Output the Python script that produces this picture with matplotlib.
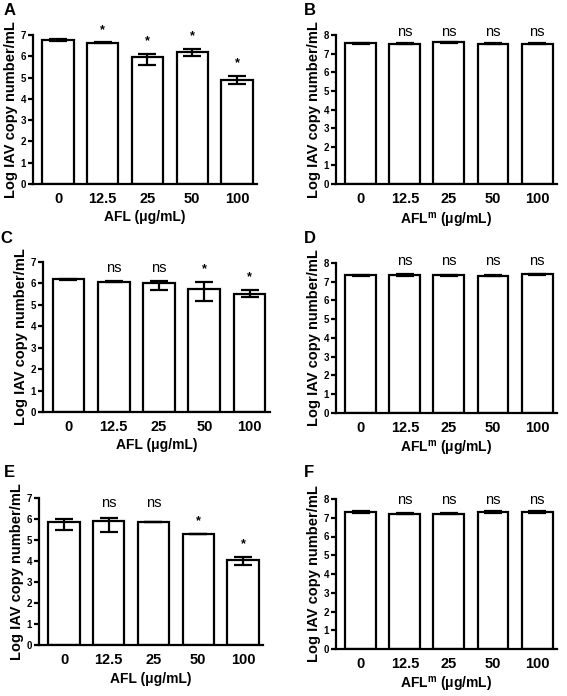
import matplotlib
matplotlib.use("Agg")
import matplotlib.pyplot as plt

plt.rcParams['font.family'] = ['Liberation Sans', 'DejaVu Sans']
plt.rcParams['mathtext.fontset'] = 'custom'
plt.rcParams['mathtext.bf'] = 'Liberation Sans:bold'
plt.rcParams['mathtext.rm'] = 'Liberation Sans'

# concentrations (x categories)
doses = ['0', '12.5', '25', '50', '100']

# panel A: AFL
a_mean = [6.78, 6.63, 5.95, 6.19, 4.88]
a_lo = [0.04, 0.02, 0.37, 0.16, 0.19]
a_hi = [0.04, 0.02, 0.15, 0.14, 0.19]
a_sig = ['', '*', '*', '*', '*']

# panel B: AFL^m
b_mean = [7.55, 7.52, 7.60, 7.52, 7.53]
b_err = [0.03, 0.03, 0.03, 0.03, 0.02]
b_sig = ['', 'ns', 'ns', 'ns', 'ns']

# panel C: AFL
c_mean = [6.19, 6.08, 6.00, 5.75, 5.51]
c_lo = [0.03, 0.03, 0.31, 0.56, 0.12]
c_hi = [0.03, 0.03, 0.10, 0.33, 0.19]
c_sig = ['', 'ns', 'ns', '*', '*']

# panel D: AFL^m
d_mean = [7.34, 7.36, 7.34, 7.32, 7.40]
d_err = [0.02, 0.03, 0.02, 0.03, 0.03]
d_sig = ['', 'ns', 'ns', 'ns', 'ns']

# panel E: AFL
e_mean = [5.87, 5.90, 5.86, 5.29, 4.03]
e_lo = [0.41, 0.52, 0.02, 0.01, 0.20]
e_hi = [0.13, 0.15, 0.02, 0.01, 0.15]
e_sig = ['', 'ns', 'ns', '*', '*']

# panel F: AFL^m
f_mean = [7.29, 7.22, 7.21, 7.29, 7.29]
f_err = [0.05, 0.02, 0.03, 0.05, 0.05]
f_sig = ['', 'ns', 'ns', 'ns', 'ns']

LW = 1.6


def draw_panel(fig, rect, letter, letter_xy, mean, lo, hi, sig, ymax, ns_y, xlabel):
    ax = fig.add_axes(rect)
    x = list(range(len(doses)))
    ax.bar(x, mean, width=0.7, color='white', edgecolor='black', linewidth=LW, zorder=2)
    ax.errorbar(x, mean, yerr=[lo, hi], fmt='none', ecolor='black', elinewidth=LW,
                capsize=6.5, capthick=LW, zorder=3)
    for i, s in enumerate(sig):
        if s == 'ns':
            ax.text(x[i], ns_y, 'ns', ha='center', va='center', fontsize=10.5, clip_on=False)
        elif s == '*':
            ax.text(x[i], mean[i] + hi[i] + ymax * 0.045, '*', ha='center', va='bottom',
                    fontsize=9, fontweight='bold', clip_on=False)
    ax.set_xlim(-0.56, 4.45)
    ax.set_ylim(0, ymax)
    ax.set_yticks(range(0, ymax + 1))
    ax.set_xticks(x)
    ax.set_xticklabels(doses, fontsize=10.5, fontweight='bold')
    for lab in ax.get_yticklabels():
        lab.set_fontweight('bold')
        lab.set_fontsize(7)
    ax.tick_params(axis='x', length=0, pad=6)
    ax.tick_params(axis='y', length=3.5, width=LW, pad=1.5, direction='out')
    for side in ['top', 'right']:
        ax.spines[side].set_visible(False)
    for side in ['left', 'bottom']:
        ax.spines[side].set_linewidth(LW)
    ax.set_ylabel('Log IAV copy number/mL', fontsize=10.5, fontweight='bold', labelpad=2)
    ax.set_xlabel(xlabel, fontsize=10, fontweight='bold', labelpad=3)
    fig.text(letter_xy[0] / 567, 1 - letter_xy[1] / 696, letter, fontsize=12,
             fontweight='bold', ha='left', va='top')
    return ax


def px_rect(left, right, bottom, top):
    return [left / 567, 1 - bottom / 696, (right - left) / 567, (bottom - top) / 696]


fig = plt.figure(figsize=(5.67, 6.96), dpi=100)

lab_afl = 'AFL (μg/mL)'
lab_aflm = r'AFL$^{\mathbf{m}}$ (μg/mL)'

draw_panel(fig, px_rect(33, 257, 184, 35), 'A', (4, 3), a_mean, a_lo, a_hi, a_sig,
           7, 7.6, lab_afl)
draw_panel(fig, px_rect(336, 557, 184, 35), 'B', (304, 3), b_mean, b_err, b_err, b_sig,
           8, 8.15, lab_aflm)
draw_panel(fig, px_rect(43, 270, 412, 262), 'C', (0, 231), c_mean, c_lo, c_hi, c_sig,
           7, 6.7, lab_afl)
draw_panel(fig, px_rect(336, 557, 413, 263), 'D', (304, 231), d_mean, d_err, d_err, d_sig,
           8, 8.1, lab_aflm)
draw_panel(fig, px_rect(39, 263, 645, 498), 'E', (4, 465), e_mean, e_lo, e_hi, e_sig,
           7, 6.75, lab_afl)
draw_panel(fig, px_rect(336, 557, 649, 499), 'F', (304, 465), f_mean, f_err, f_err, f_sig,
           8, 7.95, lab_aflm)

fig.savefig('out.png', dpi=100)
